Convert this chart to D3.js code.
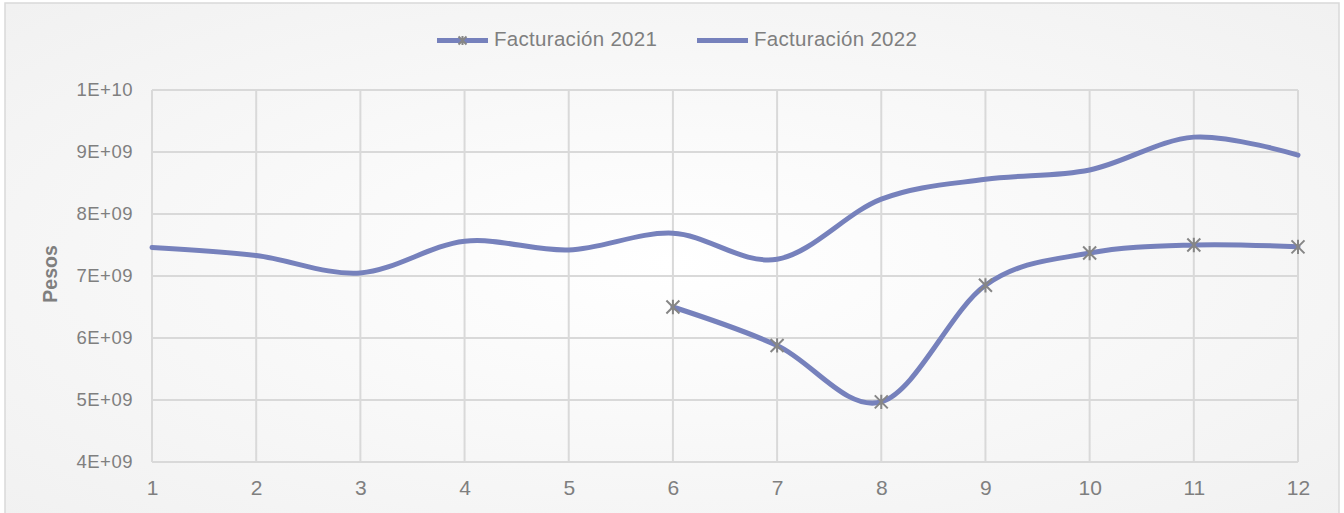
<!DOCTYPE html>
<html>
<head>
<meta charset="utf-8">
<script src="https://cdn.jsdelivr.net/npm/d3@7"></script>
<style>
  html, body { margin: 0; padding: 0; background: #ffffff; }
  svg { display: block; font-family: "Liberation Sans", Arial, sans-serif; }
</style>
</head>
<body>
<svg id="chart" width="1344" height="513"></svg>
<script>
// Monthly billing, in pesos
const months = [1, 2, 3, 4, 5, 6, 7, 8, 9, 10, 11, 12];
const sales2021 = [null, null, null, null, null, 6.50e9, 5.88e9, 4.97e9, 6.85e9, 7.37e9, 7.50e9, 7.47e9];
const sales2022 = [7.46e9, 7.33e9, 7.05e9, 7.56e9, 7.42e9, 7.69e9, 7.27e9, 8.24e9, 8.56e9, 8.71e9, 9.24e9, 8.95e9];
const yTicks = [4e9, 5e9, 6e9, 7e9, 8e9, 9e9, 1e10];
const yTickLabels = ["4E+09", "5E+09", "6E+09", "7E+09", "8E+09", "9E+09", "1E+10"];
const seriesNames = ["Facturación 2021", "Facturación 2022"];
const yTitle = "Pesos";

const svg = d3.select("#chart");
const W = 1344, H = 513;
const lineColor = "#7681bc";
const markerColor = "#868686";
const gridColor = "#d9d9d9";
const textColor = "#7f7f7f";

// Background with a soft radial shading and a thin frame
const defs = svg.append("defs");
const grad = defs.append("radialGradient").attr("id", "bg")
  .attr("cx", "50%").attr("cy", "50%").attr("r", "75%");
grad.append("stop").attr("offset", "0%").attr("stop-color", "#ffffff");
grad.append("stop").attr("offset", "100%").attr("stop-color", "#f0f0f0");
svg.append("rect").attr("x", 0).attr("y", 0).attr("width", W).attr("height", H).attr("fill", "#ffffff");
svg.append("rect").attr("x", 5).attr("y", 3).attr("width", 1334).attr("height", 520)
  .attr("fill", "url(#bg)").attr("stroke", "#d9d9d9").attr("stroke-width", 1.5);

const x = d3.scaleLinear().domain([1, 12]).range([152, 1298]);
const y = d3.scaleLinear().domain([4e9, 1e10]).range([462, 90]);

// Gridlines
svg.append("g").selectAll("line.h").data(yTicks).join("line")
  .attr("x1", x(1)).attr("x2", x(12))
  .attr("y1", d => y(d)).attr("y2", d => y(d))
  .attr("stroke", gridColor).attr("stroke-width", 2);
svg.append("g").selectAll("line.v").data(months).join("line")
  .attr("x1", d => x(d)).attr("x2", d => x(d))
  .attr("y1", y(1e10)).attr("y2", y(4e9))
  .attr("stroke", gridColor).attr("stroke-width", 2);

// Axes
const yAxis = d3.axisLeft(y).tickValues(yTicks)
  .tickFormat((d, i) => yTickLabels[i]).tickSize(0).tickPadding(19);
const gy = svg.append("g").attr("transform", `translate(${x(1)},0)`).call(yAxis);
gy.select(".domain").remove();
gy.selectAll("text").attr("fill", textColor).style("font-size", "18.5px").style("letter-spacing", "0.5px");

const xAxis = d3.axisBottom(x).tickValues(months).tickFormat(d3.format("d")).tickSize(0).tickPadding(18);
const gx = svg.append("g").attr("transform", `translate(0,${y(4e9)})`).call(xAxis);
gx.select(".domain").remove();
gx.selectAll("text").attr("fill", textColor).style("font-size", "21px");

// Axis title
svg.append("text")
  .attr("transform", `translate(57,${(y(1e10) + y(4e9)) / 2 - 2}) rotate(-90)`)
  .attr("text-anchor", "middle")
  .attr("fill", textColor).attr("font-weight", "bold").style("font-size", "19.5px")
  .text(yTitle);

// Smoothed lines
const line = d3.line()
  .defined(d => d[1] != null)
  .x(d => x(d[0])).y(d => y(d[1]))
  .curve(d3.curveCatmullRom.alpha(0));

const data2021 = months.map((m, i) => [m, sales2021[i]]);
const data2022 = months.map((m, i) => [m, sales2022[i]]);

svg.append("path").datum(data2022).attr("d", line)
  .attr("fill", "none").attr("stroke", lineColor).attr("stroke-width", 5)
  .attr("stroke-linecap", "round");
svg.append("path").datum(data2021).attr("d", line)
  .attr("fill", "none").attr("stroke", lineColor).attr("stroke-width", 5)
  .attr("stroke-linecap", "round");

// Star markers for 2021
function star(g, cx, cy, r) {
  g.append("path")
    .attr("d", `M${cx - r},${cy - r}L${cx + r},${cy + r}M${cx - r},${cy + r}L${cx + r},${cy - r}M${cx},${cy - r * 1.1}L${cx},${cy + r * 1.1}`)
    .attr("stroke", markerColor).attr("stroke-width", 2).attr("fill", "none");
}
const mk = svg.append("g");
data2021.filter(d => d[1] != null).forEach(d => star(mk, x(d[0]), y(d[1]), 6.5));

// Legend
const legend = svg.append("g");
const legY = 40.5;
const items = [
  { name: seriesNames[0], x0: 437, marker: true },
  { name: seriesNames[1], x0: 697, marker: false }
];
items.forEach(it => {
  legend.append("line").attr("x1", it.x0).attr("x2", it.x0 + 51)
    .attr("y1", legY).attr("y2", legY)
    .attr("stroke", lineColor).attr("stroke-width", 5);
  if (it.marker) star(legend, it.x0 + 25.5, legY, 4);
  legend.append("text").attr("x", it.x0 + 57).attr("y", legY - 1.5)
    .attr("dy", "0.35em").attr("fill", textColor).style("font-size", "20.5px")
    .style("letter-spacing", "0.3px")
    .text(it.name);
});
</script>
</body>
</html>
